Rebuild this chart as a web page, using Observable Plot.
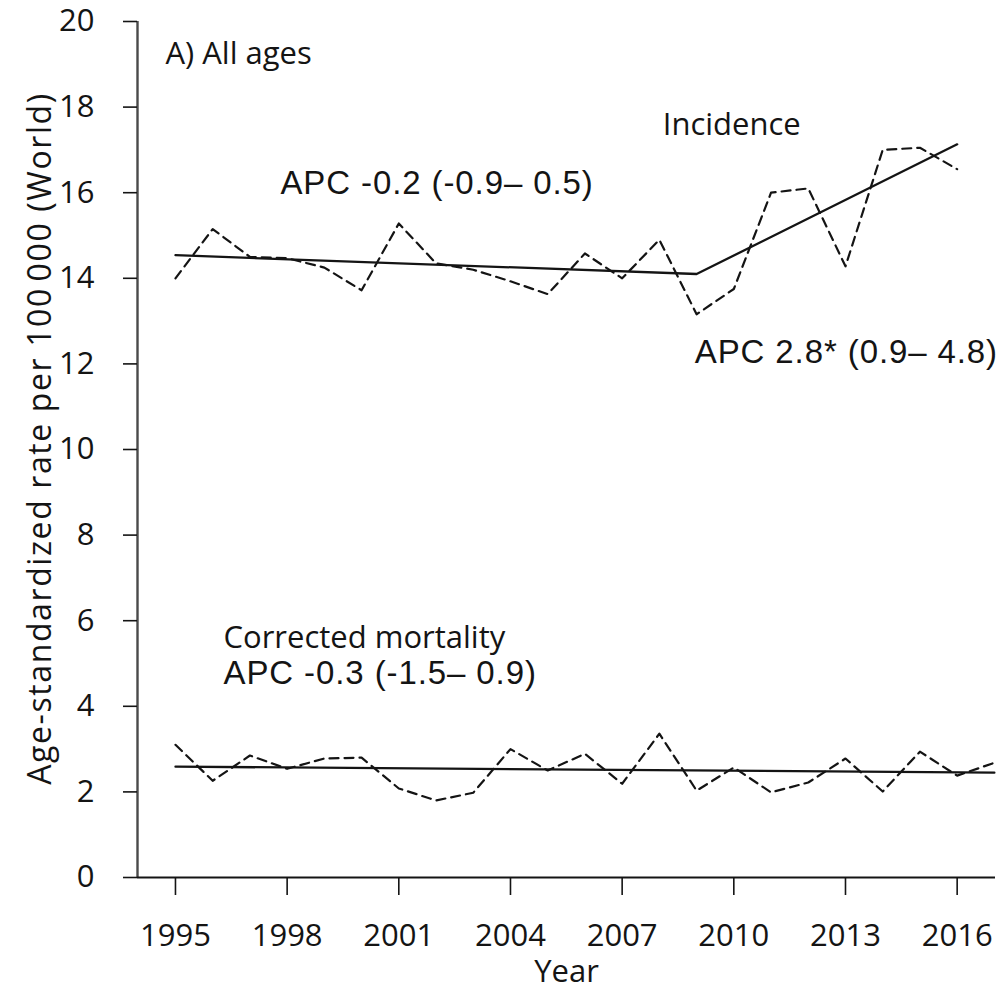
<!DOCTYPE html>
<html>
<head>
<meta charset="utf-8">
<script src="https://cdn.jsdelivr.net/npm/d3@7"></script>
<script src="https://cdn.jsdelivr.net/npm/@observablehq/plot@0.6"></script>
<style>
  html, body { margin: 0; padding: 0; background: #fff; }
  #chart svg { display: block; }
</style>
</head>
<body>
<div id="chart"></div>
<script>
// ---- Data ----
const incYears = [1995,1996,1997,1998,1999,2000,2001,2002,2003,2004,2005,2006,2007,2008,2009,2010,2011,2012,2013,2014,2015,2016];
const incidence = [14.0,15.15,14.5,14.47,14.25,13.72,15.28,14.35,14.2,13.93,13.63,14.58,14.0,14.9,13.16,13.75,16.0,16.1,14.28,17.0,17.05,16.55];

const incTrendYears = [1995, 2009, 2016];
const incTrend = [14.54, 14.1, 17.13];

const morYears = [1995,1996,1997,1998,1999,2000,2001,2002,2003,2004,2005,2006,2007,2008,2009,2010,2011,2012,2013,2014,2015,2016,2017];
const mortality = [3.1,2.26,2.85,2.54,2.78,2.8,2.08,1.8,1.98,3.0,2.5,2.89,2.19,3.36,2.03,2.57,1.99,2.22,2.78,2.01,2.94,2.38,2.68];

const morTrendYears = [1995, 2017];
const morTrend = [2.59, 2.45];

const xTicks = [1995,1998,2001,2004,2007,2010,2013,2016];
const yTicks = [0,2,4,6,8,10,12,14,16,18,20];

const panelLabel = "A) All ages";
const incLabel = "Incidence";
const incApc1 = "APC -0.2 (-0.9\u2013 0.5)";
const incApc2 = "APC 2.8* (0.9\u2013 4.8)";
const morLabel = "Corrected mortality";
const morApc = "APC -0.3 (-1.5\u2013 0.9)";
const yLabel = "Age-standardized rate per 100\u202F000 (World)";
const xLabel = "Year";

// ---- Tables for Plot ----
const zip = (xs, ys) => xs.map((x, i) => ({year: x, value: ys[i]}));
const incData = zip(incYears, incidence);
const incTrendData = zip(incTrendYears, incTrend);
const morData = zip(morYears, mortality);
const morTrendData = zip(morTrendYears, morTrend);

const xDomain = [1993.98, 2017.03];
const sans = "'Open Sans', 'Noto Sans', sans-serif";
const arial = "'Liberation Sans', Arial, sans-serif";
const ink = "#141414";

const chart = Plot.plot({
  width: 1003,
  height: 991,
  marginLeft: 137,
  marginRight: 8,
  marginTop: 21,
  marginBottom: 114,
  x: {domain: xDomain},
  y: {domain: [0, 20]},
  style: {fontFamily: sans, fontSize: "31px", color: ink, background: "#fff"},
  marks: [
    // axis lines
    Plot.ruleX([xDomain[0]], {y1: 0, y2: 20, stroke: "#4a4a4a", strokeWidth: 2.4}),
    Plot.ruleY([0], {stroke: ink, strokeWidth: 2}),
    Plot.axisY({ticks: yTicks, tickSize: 14, tickPadding: 29, fontSize: 31, label: null, stroke: ink, strokeWidth: 1.6, fontFamily: sans}),
    Plot.axisX({ticks: xTicks, tickSize: 18, tickPadding: 28, fontSize: 31, label: null, tickFormat: d => String(d), stroke: ink, strokeWidth: 1.6, fontFamily: sans}),
    // axis titles
    Plot.text([yLabel], {frameAnchor: "left", rotate: -90, dx: -97, dy: -11, fontSize: 32, textAnchor: "middle", lineAnchor: "middle", fontFamily: sans, fill: ink}),
    Plot.text([xLabel], {frameAnchor: "bottom", dy: 95, fontSize: 31, textAnchor: "middle", lineAnchor: "middle", fontFamily: sans, fill: ink}),
    // observed (dashed)
    Plot.line(incData, {x: "year", y: "value", stroke: ink, strokeWidth: 2.2, strokeDasharray: "9,6"}),
    Plot.line(morData, {x: "year", y: "value", stroke: ink, strokeWidth: 2.2, strokeDasharray: "9,6"}),
    // joinpoint trends (solid)
    Plot.line(incTrendData, {x: "year", y: "value", stroke: ink, strokeWidth: 2.3}),
    Plot.line(morTrendData, {x: "year", y: "value", stroke: ink, strokeWidth: 2.3}),
    // annotations
    Plot.text([panelLabel], {x: 1994.73, y: 19.0, textAnchor: "start", lineAnchor: "bottom", fontSize: 31, fontFamily: sans, fill: ink}),
    Plot.text([incLabel], {x: 2008.09, y: 17.34, textAnchor: "start", lineAnchor: "bottom", fontSize: 31, fontFamily: sans, fill: ink}),
    Plot.text([incApc1], {x: 1997.82, y: 15.98, textAnchor: "start", lineAnchor: "bottom", fontSize: 33, fontFamily: arial, fill: ink}),
    Plot.text([incApc2], {x: 2008.95, y: 12.03, textAnchor: "start", lineAnchor: "bottom", fontSize: 33, fontFamily: arial, fill: ink}),
    Plot.text([morLabel], {x: 1996.29, y: 5.37, textAnchor: "start", lineAnchor: "bottom", fontSize: 31, fontFamily: sans, fill: ink}),
    Plot.text([morApc], {x: 1996.29, y: 4.53, textAnchor: "start", lineAnchor: "bottom", fontSize: 33, fontFamily: arial, fill: ink})
  ]
});

// spacing tweaks to match the reference's wider text runs
chart.querySelectorAll("text").forEach(t => {
  const s = t.textContent;
  if (s.startsWith("APC")) t.setAttribute("letter-spacing", "0.9");
  if (s.startsWith("Age-")) t.setAttribute("letter-spacing", "1.6");
});

document.getElementById("chart").appendChild(chart);
</script>
</body>
</html>
